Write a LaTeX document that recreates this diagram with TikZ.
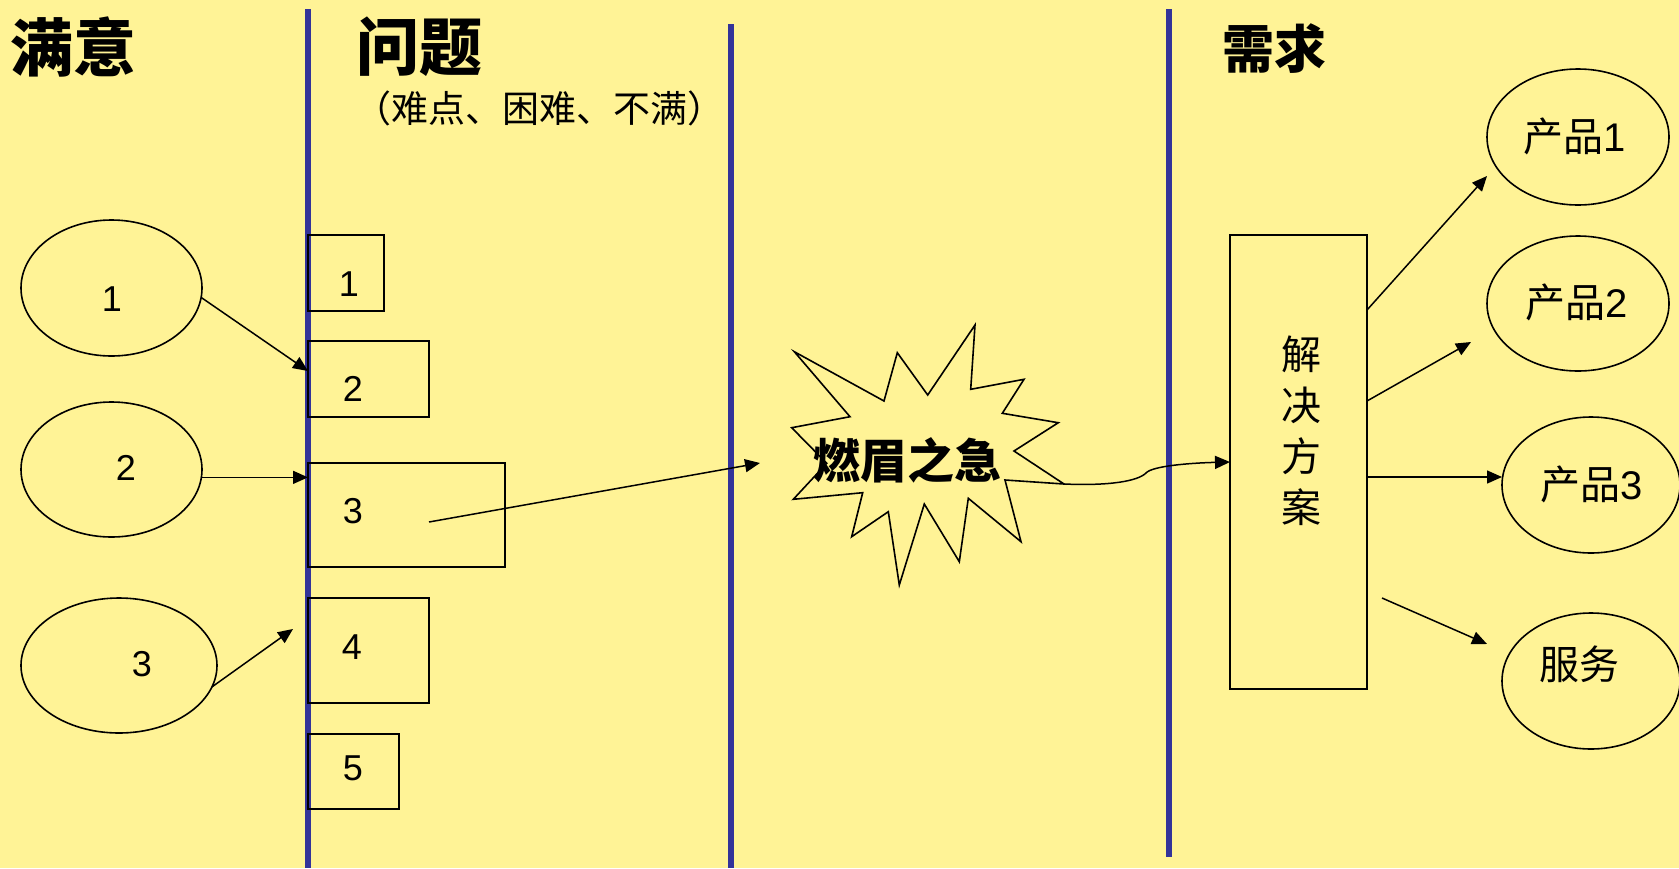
\documentclass[tikz,border=0pt]{standalone}
\usepackage{fontspec}
\setmainfont{Liberation Sans}
\newfontfamily\cjk{Noto Sans CJK SC}
\usetikzlibrary{shapes.geometric,arrows.meta,calc}
\definecolor{bgyellow}{RGB}{255,243,150}
\definecolor{laneblue}{RGB}{51,51,153}
\tikzset{
  lane/.style={laneblue, line width=5.5pt},
  outline/.style={line width=1.6pt, line join=miter},
  oval/.style={draw, ellipse, line width=1.6pt, inner sep=0pt, outer sep=0pt},
  probbox/.style={draw, rectangle, line width=1.6pt, anchor=north west, inner sep=0pt, outer sep=0pt},
  arr/.style={line width=1.5pt, -{Triangle[length=15pt,width=13pt]}},
  num/.style={font=\fontsize{36}{40}\selectfont, inner sep=0pt},
  lbl/.style={font=\cjk\fontsize{40}{51}\selectfont, inner sep=0pt},
  head/.style={font=\cjk\bfseries\fontsize{63}{66}\selectfont, inner sep=0pt},
}
\begin{document}
\begin{tikzpicture}[x=1pt,y=-1pt]
\fill[bgyellow] (0,0) rectangle (1679,868);
\useasboundingbox (0,0) rectangle (1679,868);

% lanes
\draw[lane] (308,9) -- (308,868);
\draw[lane] (731,24) -- (731,868);
\draw[lane] (1169,9) -- (1169,857);

% headings
\node[head] (hsat) at (73,47) {满意};
\node[head] (hprob) at (419,47) {问题};
\node[font=\cjk\fontsize{37}{40}\selectfont, inner sep=0pt] (hsub) at (539.5,108) {（难点、困难、不满）};
\node[font=\cjk\bfseries\fontsize{52}{56}\selectfont, inner sep=0pt] (hneed) at (1274.5,48.5) {需求};

% satisfaction ellipses
\node[oval, minimum width=181pt, minimum height=136pt] (e1) at (111.5,288) {};
\node[oval, minimum width=181pt, minimum height=135pt] (e2) at (111.5,469.5) {};
\node[oval, minimum width=196pt, minimum height=135pt] (e3) at (119,665.5) {};
\node[num] (e1t) at (112,299) {1};
\node[num] (e2t) at (126,468) {2};
\node[num] (e3t) at (142,664) {3};

% problem boxes
\node[probbox, minimum width=76pt, minimum height=76pt] (b1) at (308,235) {};
\node[probbox, minimum width=121pt, minimum height=76pt] (b2) at (308,341) {};
\node[probbox, minimum width=197pt, minimum height=104pt] (b3) at (308,463) {};
\node[probbox, minimum width=121pt, minimum height=105pt] (b4) at (308,598) {};
\node[probbox, minimum width=91pt, minimum height=75pt] (b5) at (308,734) {};
\node[num] (b1t) at (349,284) {1};
\node[num] (b2t) at (353,389) {2};
\node[num] (b3t) at (353,511) {3};
\node[num] (b4t) at (352,647) {4};
\node[num] (b5t) at (353,768) {5};

% star
\draw[outline] (794.3,351.7) -- (884,401) -- (897.3,352.7) -- (927.7,395) -- (975,325)
  -- (970.7,389.3) -- (1024,379.3) -- (1002.3,413.3) -- (1058.3,422.7) -- (1014,451)
  -- (1064,484) -- (1005,480) -- (1021,541.7) -- (968.3,498.3) -- (959.3,561.7)
  -- (924.3,504) -- (899.3,585) -- (888.3,511.7) -- (851.7,536.7) -- (862.7,492.7)
  -- (793.3,499.3) -- (826.7,463.3) -- (791.7,427.7) -- (850,416.7) -- cycle;
\coordinate (startip) at (1064,484);
\coordinate (starin) at (760,463);
\node[font=\cjk\bfseries\fontsize{47}{50}\selectfont, inner sep=0pt] (urgent) at (907,460) {燃眉之急};

% solution box
\node[probbox, minimum width=137pt, minimum height=454pt] (sol) at (1230,235) {};
\node[lbl, align=center] (solt) at (1301,430.5) {解\\决\\方\\案};

% products
\node[oval, minimum width=182pt, minimum height=136pt] (p1) at (1578,137) {};
\node[oval, minimum width=182pt, minimum height=135pt] (p2) at (1578,303.5) {};
\node[oval, minimum width=178pt, minimum height=136pt] (p3) at (1591,485) {};
\node[oval, minimum width=178pt, minimum height=136pt] (sv) at (1591,681) {};
\node[lbl] (p1t) at (1575,136) {产品{\rmfamily 1}};
\node[lbl] (p2t) at (1577,302) {产品{\rmfamily 2}};
\node[lbl] (p3t) at (1592,484) {产品{\rmfamily 3}};
\node[lbl] (svt) at (1579,664) {服务};

% connectors left
\draw[arr] (e1.-6) -- ($(b2.west)+(0,-8)$);
\draw[arr] (e2.-5) -- (e2.-5 -| b3.west);
\coordinate (a3end) at (293,629);
\draw[arr] (e3.-13) -- (a3end);
\coordinate (b3src) at ($(b3.center)+(22.5,7)$);
\draw[arr] (b3src) -- (starin);

% curve to solution
\draw[arr] (startip) .. controls (1110,486) and (1138,481) .. (1146,473)
  .. controls (1152,466) and (1190,463) .. (sol.west);

% connectors right
\coordinate (s1) at ($(sol.north east)+(0,75)$);
\coordinate (p1end) at (1487,176);
\draw[arr] (s1) -- (p1end);
\coordinate (s2) at ($(sol.north east)+(0,166)$);
\coordinate (p2end) at (1471,342);
\draw[arr] (s2) -- (p2end);
\coordinate (s3) at ($(sol.north east)+(0,242)$);
\draw[arr] (s3) -- (s3 -| p3.west);
\coordinate (s4) at (1382,598);
\coordinate (svend) at (1487,644);
\draw[arr] (s4) -- (svend);
\end{tikzpicture}
\end{document}
